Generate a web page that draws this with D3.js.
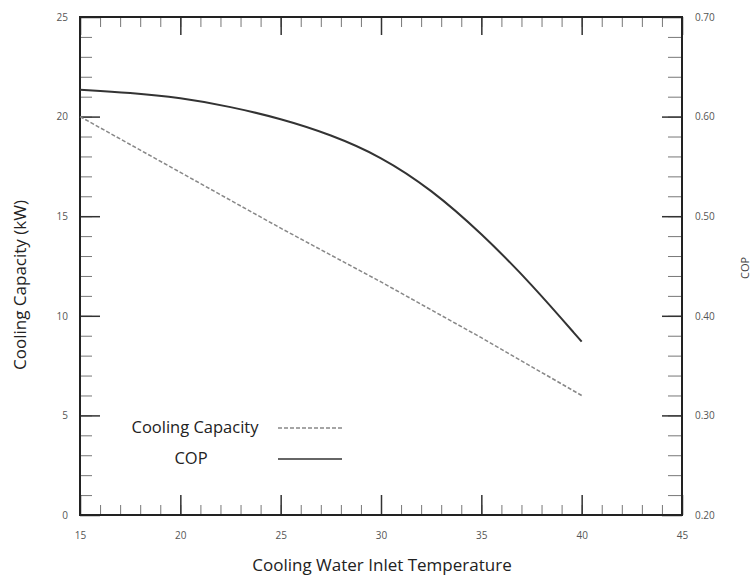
<!DOCTYPE html>
<html lang="en">
  <head>
    <meta charset="UTF-8">
    <script src="https://cdn.jsdelivr.net/npm/d3@7"></script>
    <title>Cooling capacity and COP</title>
    <style>
      body { margin: 0; background: #fff; }
      text { font-family: "Open Sans", sans-serif; }
    </style>
  </head>
  <body>
    <script>
      let w = 756;
      let h = 577;
      let margin = {top: 17, right: 74, bottom: 62, left: 80};

      // values
      let temps = [15, 17.5, 20, 22.5, 25, 27.5, 30, 32.5, 35, 37.5, 40];
      let capacity = [20.0, 18.6, 17.2, 15.8, 14.4, 13.05, 11.7, 10.3, 8.9, 7.45, 6.0];
      let cop = [0.627, 0.624, 0.619, 0.610, 0.598, 0.582, 0.560, 0.527, 0.483, 0.432, 0.374];

      let xTicks = [15, 20, 25, 30, 35, 40, 45];
      let yLeftTicks = [0, 5, 10, 15, 20, 25];
      let yRightTicks = [0.2, 0.3, 0.4, 0.5, 0.6, 0.7];

      let xScale = d3.scaleLinear().domain([15, 45]).range([margin.left, w - margin.right]);
      let yScale = d3.scaleLinear().domain([0, 25]).range([h - margin.bottom, margin.top]);
      let y2Scale = d3.scaleLinear().domain([0.2, 0.7]).range([h - margin.bottom, margin.top]);

      let svg = d3.select('body').append('svg')
                  .attr('width', w)
                  .attr('height', h);

      // axis setup: [axis, transform, minor ticks, minor size, major ticks, major size, label format, padding]
      let ax = [
        [d3.axisBottom(xScale), `translate(0,${h - margin.bottom})`, d3.range(15, 46, 1), -10, xTicks, -20, d => d, 17],
        [d3.axisTop(xScale), `translate(0,${margin.top})`, d3.range(15, 46, 1), -10, xTicks, -18, null, 0],
        [d3.axisLeft(yScale), `translate(${margin.left},0)`, d3.range(0, 26, 1), -12, yLeftTicks, -20, d => d, 12],
        [d3.axisRight(y2Scale), `translate(${w - margin.right},0)`, d3.range(0.2, 0.701, 0.02), -14, yRightTicks, -20, d3.format('.2f'), 13]
      ];

      // minor ticks
      ax.forEach(([mk, tr, minorVals, minorSize]) => {
        let g1 = svg.append('g').attr('transform', tr)
                    .call(mk.tickValues(minorVals).tickSize(minorSize).tickFormat(''));
        g1.select('.domain').remove();
        g1.selectAll('line').attr('stroke', '#777').attr('stroke-width', 1);
      });

      // major ticks + labels
      ax.forEach(([mk, tr, minorVals, minorSize, majorVals, majorSize, fmt, pad]) => {
        let g2 = svg.append('g').attr('transform', tr)
                    .call(mk.tickValues(majorVals).tickSize(majorSize)
                            .tickPadding(pad).tickFormat(fmt ? fmt : ''));
        g2.select('.domain').remove();
        g2.selectAll('line').attr('stroke', '#333').attr('stroke-width', 1.5);
        g2.selectAll('text').attr('fill', '#555').attr('font-size', 10)
          .attr('font-family', '"Liberation Sans", sans-serif');
        if (!fmt) g2.selectAll('text').remove();
      });

      // frame
      svg.append('rect')
         .attr('x', margin.left)
         .attr('y', margin.top)
         .attr('width', w - margin.left - margin.right)
         .attr('height', h - margin.top - margin.bottom)
         .attr('fill', 'none')
         .attr('stroke', '#222')
         .attr('stroke-width', 2);

      // lines
      let capLine = d3.line()
                      .x((d, i) => xScale(temps[i]))
                      .y(d => yScale(d));
      let copLine = d3.line()
                      .x((d, i) => xScale(temps[i]))
                      .y(d => y2Scale(d))
                      .curve(d3.curveBasis);

      svg.append('path')
         .datum(capacity)
         .attr('d', capLine)
         .attr('fill', 'none')
         .attr('stroke', '#888')
         .attr('stroke-width', 1.5)
         .attr('stroke-dasharray', '4,2');

      svg.append('path')
         .datum(cop)
         .attr('d', copLine)
         .attr('fill', 'none')
         .attr('stroke', '#333')
         .attr('stroke-width', 2);

      // legend
      let legend = [
        {label: 'Cooling Capacity', x: 195, y: 427, dash: '4,2', color: '#888'},
        {label: 'COP', x: 191, y: 458, dash: null, color: '#333'}
      ];
      legend.forEach(l => {
        svg.append('text')
           .attr('x', l.x).attr('y', l.y)
           .attr('dy', '0.35em')
           .attr('text-anchor', 'middle')
           .attr('font-size', 16.5)
           .attr('fill', '#222')
           .text(l.label);
        svg.append('line')
           .attr('x1', 278).attr('x2', 342)
           .attr('y1', l.y + 1).attr('y2', l.y + 1)
           .attr('stroke', l.color)
           .attr('stroke-width', 1.5)
           .attr('stroke-dasharray', l.dash);
      });

      // axis titles
      svg.append('text')
         .attr('x', 382)
         .attr('y', 565)
         .attr('dy', '0.35em')
         .attr('text-anchor', 'middle')
         .attr('font-size', 17)
         .attr('fill', '#222')
         .text('Cooling Water Inlet Temperature');

      svg.append('text')
         .attr('transform', 'translate(20,285) rotate(-90)')
         .attr('dy', '0.35em')
         .attr('text-anchor', 'middle')
         .attr('font-size', 17)
         .attr('fill', '#222')
         .text('Cooling Capacity (kW)');

      svg.append('text')
         .attr('transform', 'translate(745,268) rotate(-90)')
         .attr('dy', '0.35em')
         .attr('text-anchor', 'middle')
         .attr('font-size', 11)
         .attr('fill', '#444')
         .text('COP');
    </script>
  </body>
</html>
